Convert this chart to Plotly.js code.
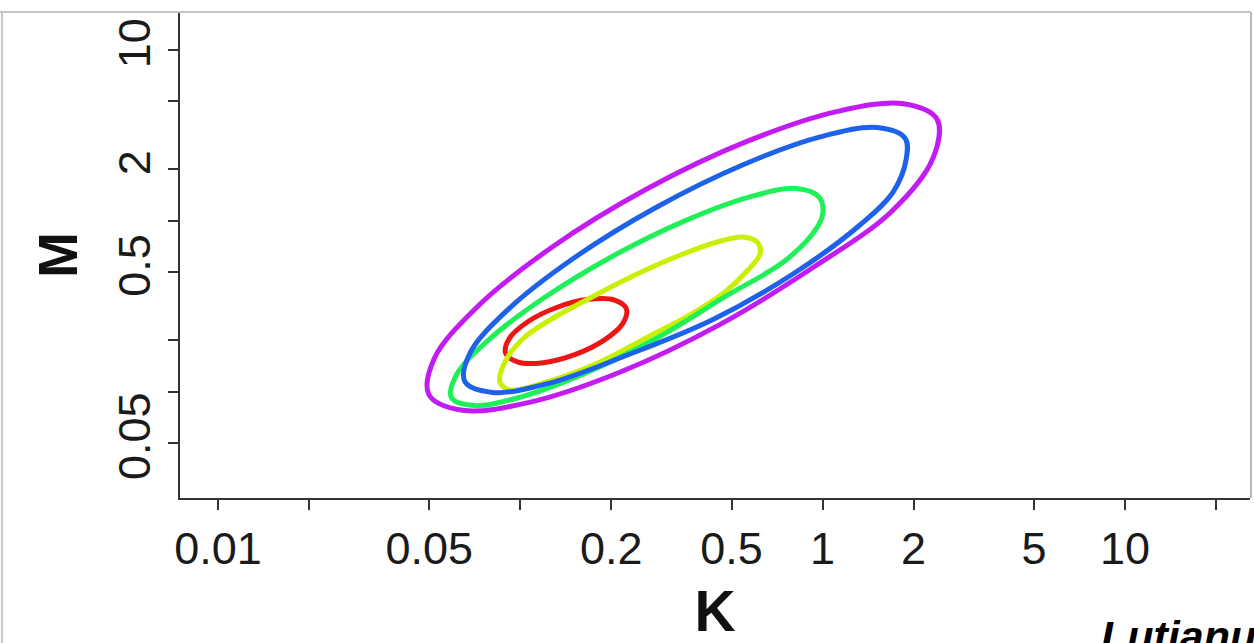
<!DOCTYPE html>
<html>
<head>
<meta charset="utf-8">
<script src="https://cdn.plot.ly/plotly-3.0.1.min.js"></script>
<style>html,body{margin:0;padding:0;background:#fff;}#chart{width:1254px;height:643px;}</style>
</head>
<body>
<div id="chart"></div>
<script>
// Contour outlines (K, M pairs going around each curve)
var kRed    = [0.2243, 0.2040, 0.1683, 0.1325, 0.1062, 0.09202, 0.08942, 0.09835, 0.1192, 0.1514, 0.1888, 0.2181];
var mRed    = [0.3052, 0.3443, 0.3469, 0.3118, 0.2572, 0.2050, 0.1678, 0.1488, 0.1477, 0.1644, 0.1993, 0.2500];

var kYellow = [0.08567, 0.08968, 0.1036, 0.1303, 0.1701, 0.2396, 0.3453, 0.4474, 0.5454, 0.6113, 0.6209, 0.5665, 0.4754, 0.3642, 0.2685, 0.1835, 0.1254, 0.09245];
var mYellow = [0.1138, 0.1531, 0.2088, 0.2734, 0.3532, 0.4816, 0.6391, 0.7514, 0.8038, 0.7413, 0.6391, 0.5151, 0.3829, 0.2809, 0.2116, 0.1490, 0.1154, 0.1022];

var kGreen  = [0.9730, 0.8175, 0.5712, 0.3499, 0.2020, 0.1199, 0.07898, 0.06164, 0.05915, 0.07021, 0.1005, 0.1641, 0.2840, 0.4787, 0.7567, 0.9656, 1.003];
var mGreen  = [1.378, 1.546, 1.377, 0.9995, 0.6205, 0.3542, 0.2024, 0.1263, 0.09230, 0.08289, 0.09305, 0.1282, 0.2065, 0.3618, 0.5894, 0.9324, 1.141];

var kBlue   = [1.876, 1.517, 0.9818, 0.5433, 0.2811, 0.1505, 0.09161, 0.06842, 0.06553, 0.08101, 0.1252, 0.2263, 0.4373, 0.8166, 1.329, 1.710, 1.888];
var mBlue   = [3.035, 3.513, 3.099, 2.123, 1.197, 0.6057, 0.3052, 0.1701, 0.1145, 0.09892, 0.1122, 0.1637, 0.2661, 0.5014, 0.9450, 1.474, 2.270];

var kPurple = [2.389, 1.853, 1.113, 0.5590, 0.2610, 0.1272, 0.07211, 0.05194, 0.04990, 0.06436, 0.1071, 0.2133, 0.4567, 0.9376, 1.684, 2.319];
var mPurple = [3.940, 4.849, 4.358, 2.905, 1.529, 0.6999, 0.3141, 0.1562, 0.09563, 0.07770, 0.08646, 0.1297, 0.2465, 0.5383, 1.126, 2.332];

var curveColors = ['#ee1515', '#c8f000', '#1ff05a', '#1f62ea', '#c21cf2'];

var xTickVals = [0.01, 0.02, 0.05, 0.1, 0.2, 0.5, 1, 2, 5, 10, 20];
var xTickText = ['0.01', '', '0.05', '', '0.2', '0.5', '1', '2', '5', '10', ''];
var yTickVals = [0.05, 0.1, 0.2, 0.5, 1, 2, 5, 10];
var yTickText = ['0.05', '', '', '0.5', '', '2', '', '10'];

var xTitle = 'K';
var yTitle = 'M';
var speciesLabel = 'Lutjanus';

function closed(a) { return a.concat([a[0]]); }

var series = [
  [kRed, mRed], [kYellow, mYellow], [kGreen, mGreen], [kBlue, mBlue], [kPurple, mPurple]
];
var traces = series.map(function (s, i) {
  return {
    type: 'scatter', mode: 'lines',
    x: closed(s[0]), y: closed(s[1]),
    line: { color: curveColors[i], width: 5, shape: 'spline', smoothing: 1, simplify: false },
    hoverinfo: 'skip', showlegend: false
  };
});

var FONT = 'Liberation Sans, Arial, sans-serif';
var L = 180, R = 1250, T = 12, B = 498;
function px(x) { return (x - L) / (R - L); }
function py(y) { return (B - y) / (B - T); }

var layout = {
  width: 1254, height: 643,
  margin: { l: L, r: 1254 - R, t: T, b: 643 - B, pad: 0 },
  paper_bgcolor: '#ffffff', plot_bgcolor: '#ffffff',
  showlegend: false,
  xaxis: {
    type: 'log', range: [-2.1257, 1.4138],
    tickvals: xTickVals, ticktext: xTickText,
    ticks: 'outside', ticklen: 10, tickwidth: 2, tickcolor: '#333',
    showline: true, linecolor: '#333', linewidth: 2,
    showgrid: false, zeroline: false, automargin: false,
    tickfont: { family: FONT, size: 45, color: '#1a1a1a' },
    title: { text: xTitle, font: { family: FONT, size: 57, color: '#111', weight: 'bold' }, standoff: 18 }
  },
  yaxis: {
    type: 'log', range: [-1.623, 1.2225],
    tickvals: yTickVals, ticktext: yTickText, tickangle: -90,
    ticks: 'outside', ticklen: 10, tickwidth: 2, tickcolor: '#333',
    showline: true, linecolor: '#333', linewidth: 2,
    showgrid: false, zeroline: false, automargin: false,
    tickfont: { family: FONT, size: 45, color: '#1a1a1a' },
    title: { text: yTitle, font: { family: FONT, size: 55, color: '#111', weight: 'bold' }, standoff: 14 }
  },
  shapes: [
    { type: 'line', xref: 'paper', yref: 'paper', x0: px(0), x1: px(1251), y0: 1, y1: 1,
      line: { color: '#c4c4c4', width: 2 } },
    { type: 'line', xref: 'paper', yref: 'paper', x0: px(1251), x1: px(1251), y0: 1, y1: 0,
      line: { color: '#b8b8b8', width: 2 } },
    { type: 'line', xref: 'paper', yref: 'paper', x0: px(2), x1: px(2), y0: 1, y1: py(643),
      line: { color: '#c8c8c8', width: 2 } }
  ],
  annotations: [
    { text: speciesLabel, xref: 'paper', yref: 'paper', x: px(1100), y: py(611),
      xanchor: 'left', yanchor: 'top', showarrow: false, borderpad: 0,
      font: { family: FONT, size: 43, color: '#000', weight: 'bold', style: 'italic' } }
  ]
};

Plotly.newPlot('chart', traces, layout, { displayModeBar: false, staticPlot: true });
</script>
</body>
</html>
